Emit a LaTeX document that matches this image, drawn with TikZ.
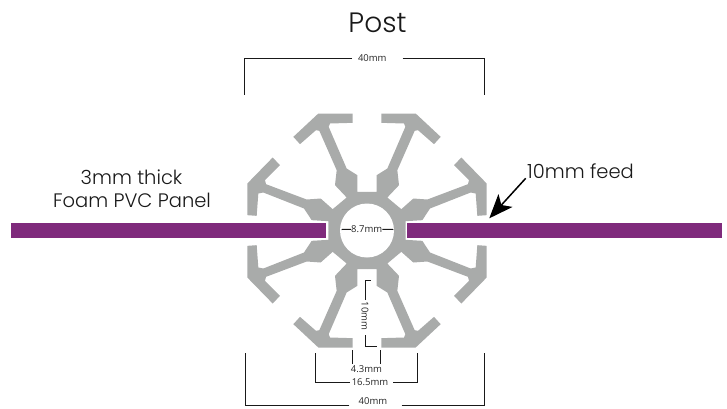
\documentclass[tikz,border=0pt]{standalone}
\usepackage{fontspec}
\setmainfont{Poppins}[UprightFont=* Light]
\newfontfamily\dimfont{Open Sans}
\usetikzlibrary{arrows.meta}
\definecolor{postgray}{HTML}{A9ABAA}
\definecolor{panelpurple}{HTML}{7F2A7C}
\tikzset{
	panel/.style={fill=panelpurple},
	dimline/.style={draw=black!90, line width=1pt},
	dimlabel/.style={inner sep=0pt, font=\dimfont\fontsize{9.5}{9.5}\selectfont, text=black!85},
	bigLabel/.style={anchor=base, inner sep=0pt, text=black!90, font=\fontsize{19.5}{23}\selectfont}
}
\begin{document}
\begin{tikzpicture}[x=1pt, y=-1pt]
	\useasboundingbox (0,0) rectangle (727,408);
	% post profile, one quadrant mirrored four times
	\foreach \sx/\sy in {1/1,-1/1,1/-1,-1/-1}
	\fill[postgray, shift={(367,230.5)}, xscale=\sx, yscale=\sy] (-9.67,38.67) -- (-9.67,55.33) -- (-20.33,62) -- (-38.33,103.67) -- (-37,107) -- (-14.33,107.67) -- (-14.33,117) -- (-48.67,117) -- (-73.67,93.67) -- (-67,86.33) -- (-51,100.33) -- (-47.67,99.67) -- (-30.33,60.33) -- (-32,45.33) -- (-20.33,33) -- (-34.33,21.33) -- (-46.33,32) -- (-60.33,31) -- (-101,46.33) -- (-102,50.33) -- (-87,65.33) -- (-94.33,73) -- (-119.67,47) -- (-119.67,15.33) -- (-110.33,14.67) -- (-108.67,37) -- (-103.67,38) -- (-63,22) -- (-55.33,10.33) -- (-38.67,9.33) -- (-38.67,0) -- (0,0) -- (0,38.67) -- cycle;
	\fill[postgray] (367,230.5) circle (38);
	\fill[white] (367,230.5) circle (27);
	% panels
	\fill[panel] (11,223) rectangle (326,238);
	\fill[panel] (406.7,223) rectangle (722,238);
	% titles
	\node[anchor=base, inner sep=0pt, text=black!90, font=\fontsize{28}{28}\selectfont] (title) at (377.5,32.7) {Post};
	\node[bigLabel] (thick) at (131.5,184) {3mm thick};
	\node[bigLabel] (foam) at (132,207) {Foam PVC Panel};
	\node[bigLabel, anchor=base west] (feed) at (527,178.3) {10mm feed};
	\coordinate (feedTip) at (489.3,218.3);
	\draw[line width=1.5pt, -{Stealth[length=24pt, width=19pt, inset=6pt]}] (525.7,178.3) -- (feedTip);
	% top 40mm
	\node[dimlabel] (topW) at (372.3,58) {40mm};
	\coordinate (topA) at (352,58);
	\coordinate (topB) at (244.5,58);
	\coordinate (topC) at (244.5,95);
	\coordinate (topD) at (402.7,58);
	\coordinate (topE) at (484.5,58);
	\coordinate (topF) at (484.5,95);
	\draw[dimline] (topA) -- (topB) -- (topC);
	\draw[dimline] (topD) -- (topE) -- (topF);
	% bore
	\node[dimlabel] (bore) at (366.7,229) {8.7mm};
	\coordinate (boreL) at (341.7,229.5);
	\coordinate (boreR) at (393.3,229.5);
	\draw[dimline] (boreL) -- (bore);
	\draw[dimline] (bore) -- (boreR);
	% 10mm depth
	\node[dimlabel, rotate=-90] (depth) at (365,316) {10mm};
	\coordinate (depA) at (365,300);
	\coordinate (depB) at (365,280.7);
	\coordinate (depC) at (370.7,280.7);
	\coordinate (depD) at (365,335);
	\coordinate (depE) at (365,346.7);
	\coordinate (depF) at (376.7,346.7);
	\draw[dimline] (depA) -- (depB) -- (depC);
	\draw[dimline] (depD) -- (depE) -- (depF);
	% 4.3mm slot
	\node[dimlabel] (slotW) at (366.5,369.5) {4.3mm};
	\coordinate (slotA) at (352.7,350);
	\coordinate (slotB) at (352.7,364);
	\coordinate (slotC) at (380,350);
	\coordinate (slotD) at (380,364);
	\draw[dimline] (slotA) -- (slotB);
	\draw[dimline] (slotC) -- (slotD);
	% 16.5mm
	\node[dimlabel] (midW) at (370,382.5) {16.5mm};
	\coordinate (midA) at (350,382.5);
	\coordinate (midB) at (315.7,382.5);
	\coordinate (midC) at (315.7,353);
	\coordinate (midD) at (393,382.5);
	\coordinate (midE) at (417.7,382.5);
	\coordinate (midF) at (417.7,353);
	\draw[dimline] (midA) -- (midB) -- (midC);
	\draw[dimline] (midD) -- (midE) -- (midF);
	% bottom 40mm
	\node[dimlabel] (botW) at (373,401.5) {40mm};
	\coordinate (botA) at (349.3,405.7);
	\coordinate (botB) at (245,405.7);
	\coordinate (botC) at (245,353);
	\coordinate (botD) at (401.7,405.7);
	\coordinate (botE) at (484.3,405.7);
	\coordinate (botF) at (484.3,353);
	\draw[dimline] (botA) -- (botB) -- (botC);
	\draw[dimline] (botD) -- (botE) -- (botF);
\end{tikzpicture}
\end{document}
